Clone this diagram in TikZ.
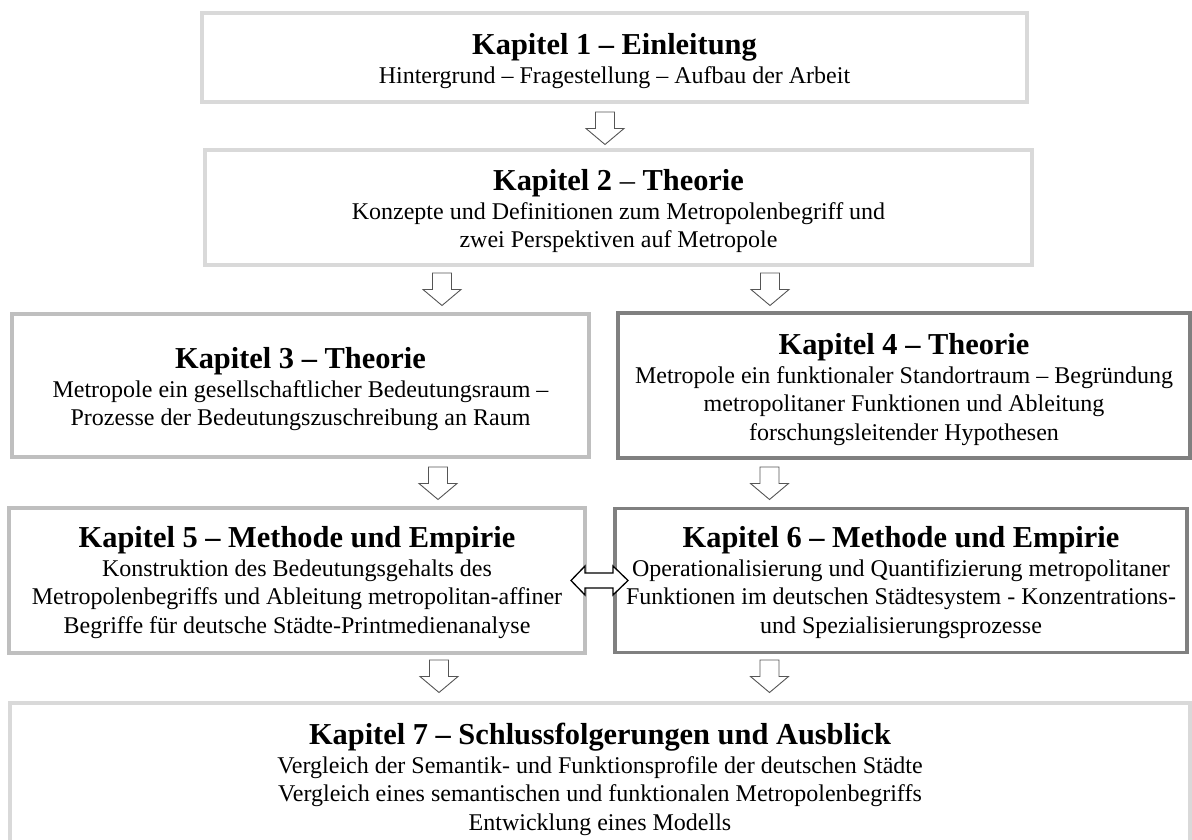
\documentclass[tikz,border=0pt]{standalone}
\usepackage{fontspec}
\setmainfont{Liberation Serif}
\usetikzlibrary{calc}
\definecolor{edgelight}{HTML}{D9D9D9}
\definecolor{edgemid}{HTML}{BFBFBF}
\definecolor{edgedark}{HTML}{808080}
\definecolor{arrowline}{HTML}{555555}
\newcommand\chaptitle[1]{{\fontsize{30.4}{28.5}\selectfont\bfseries #1}}
% hollow block arrow pointing down, #1 = name of the top centre of the shaft
\newcommand\blockdown[1]{%
  \draw[blockarrow] ([xshift=-9.5pt]#1) -- ++(19,0) -- ++(0,16.5) -- ++(9.5,0)
    -- ++(-19,16) -- ++(-19,-16) -- ++(9.5,0) -- cycle;}
\begin{document}
\begin{tikzpicture}[x=1pt,y=-1pt,
  chapbox/.style={draw=#1, line width=3.6pt, fill=white, inner sep=0pt},
  % base anchor sits on the baseline of the last text line
  chaptext/.style={font=\fontsize{24}{28.5}\selectfont, align=center, inner sep=0pt, anchor=base},
  blockarrow/.style={draw=arrowline, line width=0.9pt, fill=white, line join=miter},
  dblarrow/.style={draw=black, line width=1.3pt, fill=white, line join=miter}]
\clip (0,0) rectangle (1192,839);
\fill[white] (0,0) rectangle (1192,839);

% chapter frames
\node[chapbox=edgelight, minimum width=825pt, minimum height=89pt]  (k1) at (614.5,57.5) {};
\node[chapbox=edgelight, minimum width=827pt, minimum height=115pt] (k2) at (618.5,207.5) {};
\node[chapbox=edgemid,   minimum width=577pt, minimum height=143pt] (k3) at (300.5,385.5) {};
\node[chapbox=edgedark,  minimum width=572pt, minimum height=145pt] (k4) at (904,385.5) {};
\node[chapbox=edgemid,   minimum width=576pt, minimum height=145pt] (k5) at (297,580.5) {};
\node[chapbox=edgedark,  minimum width=572pt, minimum height=144pt] (k6) at (901,580.5) {};
\node[chapbox=edgelight, minimum width=1180pt, minimum height=177pt] (k7) at (600,791.5) {};

% chapter texts
\node[chaptext] (t1) at (614.5,83) {\chaptitle{Kapitel 1 – Einleitung}\\
  Hintergrund – Fragestellung – Aufbau der Arbeit};
\node[chaptext] (t2) at (618.5,247.5) {\chaptitle{Kapitel 2 {\mdseries –} Theorie}\\
  Konzepte und Definitionen zum Metropolenbegriff und\\
  zwei Perspektiven auf Metropole};
\node[chaptext] (t3) at (300.5,425.5) {\chaptitle{Kapitel 3 – Theorie}\\
  Metropole ein gesellschaftlicher Bedeutungsraum –\\
  Prozesse der Bedeutungszuschreibung an Raum};
\node[chaptext] (t4) at (904,440) {\chaptitle{Kapitel 4 – Theorie}\\
  Metropole ein funktionaler Standortraum – Begründung\\
  metropolitaner Funktionen und Ableitung\\
  forschungsleitender Hypothesen};
\node[chaptext] (t5) at (297,633) {\chaptitle{Kapitel 5 – Methode und Empirie}\\
  Konstruktion des Bedeutungsgehalts des\\
  Metropolenbegriffs und Ableitung metropolitan-affiner\\
  Begriffe für deutsche Städte-Printmedienanalyse};
\node[chaptext] (t6) at (901,633) {\chaptitle{Kapitel 6 – Methode und Empirie}\\
  Operationalisierung und Quantifizierung metropolitaner\\
  Funktionen im deutschen Städtesystem - Konzentrations-\\
  und Spezialisierungsprozesse};
\node[chaptext] (t7) at (600,830) {\chaptitle{Kapitel 7 – Schlussfolgerungen und Ausblick}\\
  Vergleich der Semantik- und Funktionsprofile der deutschen Städte\\
  Vergleich eines semantischen und funktionalen Metropolenbegriffs\\
  Entwicklung eines Modells};

% start points of the flow arrows
\coordinate (a12)  at (605,112);
\coordinate (a23)  at (442,273);
\coordinate (a24)  at (770,273);
\coordinate (a35)  at (438,467);
\coordinate (a46)  at (769.5,467);
\coordinate (a57)  at (439,660);
\coordinate (a67)  at (769.5,660);
\blockdown{a12}
\blockdown{a23}
\blockdown{a24}
\blockdown{a35}
\blockdown{a46}
\blockdown{a57}
\blockdown{a67}

% two-way arrow between chapters 5 and 6
\coordinate (m56) at ($(k5.east)!0.5!(k6.west)$);
\draw[dblarrow] ([xshift=-29pt]m56) -- ++(14,-14.5) -- ++(0,7) -- ++(28,0) -- ++(0,-7)
  -- ++(15,14.5) -- ++(-15,14.5) -- ++(0,-7) -- ++(-28,0) -- ++(0,7) -- cycle;
\end{tikzpicture}
\end{document}
